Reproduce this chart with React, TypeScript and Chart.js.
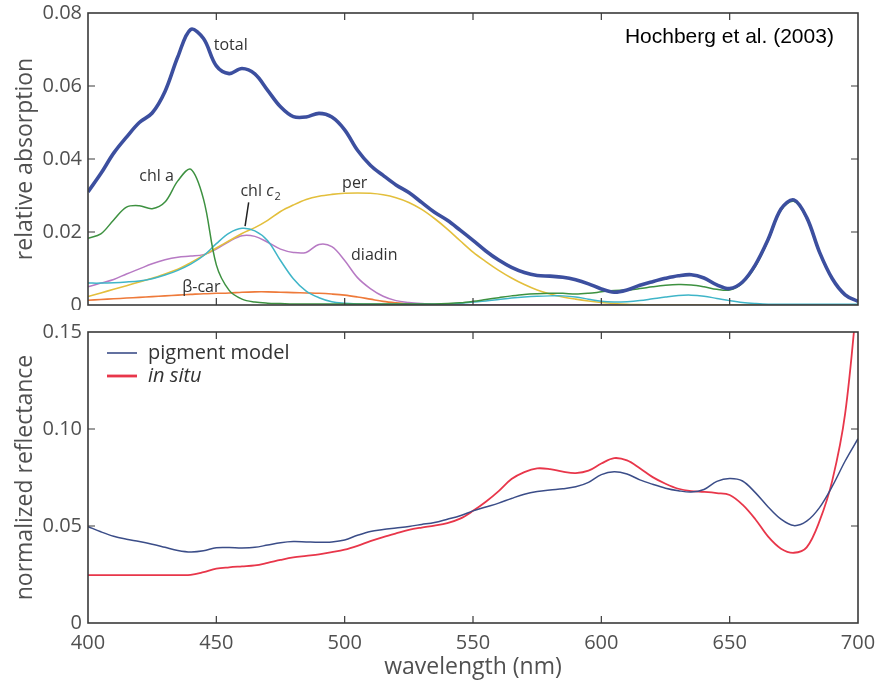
import React, { useEffect, useRef } from "react";
import { Chart, registerables } from "chart.js";

Chart.register(...registerables);

// ---------- data ----------
const wavelengths = [
  400, 405, 410, 415, 420, 425, 430, 435, 440, 445, 450, 455, 460, 465, 470, 475, 480, 485, 490, 495,
  500, 505, 510, 515, 520, 525, 530, 535, 540, 545, 550, 555, 560, 565, 570, 575, 580, 585, 590, 595,
  600, 605, 610, 615, 620, 625, 630, 635, 640, 645, 650, 655, 660, 665, 670, 675, 680, 685, 690, 695, 700,
];

const totalAbs = [
  0.031, 0.036, 0.0416, 0.046, 0.05, 0.0526, 0.0585, 0.068, 0.0755, 0.073, 0.0655, 0.0634, 0.0648, 0.0633, 0.0588, 0.0543, 0.0516, 0.0515, 0.0525, 0.0515,
  0.048, 0.0424, 0.0383, 0.0355, 0.0329, 0.0308, 0.0281, 0.0254, 0.0232, 0.0205, 0.0177, 0.0148, 0.0123, 0.0103, 0.0089, 0.0081, 0.0079, 0.0076, 0.0069, 0.0058,
  0.0044, 0.0035, 0.0041, 0.0054, 0.0064, 0.0073, 0.008, 0.0083, 0.0074, 0.0055, 0.0045, 0.0063, 0.011, 0.018, 0.0263, 0.0288, 0.024, 0.0145, 0.0072, 0.0028, 0.001,
];

const chlAAbs = [
  0.0183, 0.0195, 0.0233, 0.0268, 0.0272, 0.0264, 0.0282, 0.034, 0.0372, 0.029, 0.011, 0.004, 0.0016, 0.0008, 0.0005, 0.0004, 0.0003, 0.0003, 0.0003, 0.0003,
  0.0003, 0.0003, 0.0003, 0.0003, 0.0003, 0.0003, 0.0003, 0.0003, 0.0004, 0.0006, 0.001, 0.0015, 0.002, 0.0025, 0.0029, 0.0031, 0.0032, 0.0032, 0.003, 0.0032,
  0.0036, 0.004, 0.0041, 0.0045, 0.005, 0.0054, 0.0056, 0.0055, 0.005, 0.0043, 0.0041, 0.006, 0.0105, 0.0176, 0.0259, 0.0284, 0.0237, 0.0142, 0.007, 0.0026, 0.0009,
];

const chlC2Abs = [
  0.006, 0.006, 0.0061, 0.0063, 0.0066, 0.0072, 0.0082, 0.0095, 0.0112, 0.0135, 0.0168, 0.0197, 0.021, 0.0203, 0.0176, 0.0122, 0.0072, 0.0038, 0.002, 0.0009,
  0.0005, 0.0003, 0.0002, 0.0002, 0.0002, 0.0002, 0.0002, 0.0002, 0.0003, 0.0005, 0.0008, 0.0011, 0.0015, 0.0019, 0.0022, 0.0024, 0.0025, 0.0025, 0.0022, 0.0016,
  0.001, 0.0008, 0.0009, 0.0012, 0.0017, 0.0022, 0.0026, 0.0027, 0.0024, 0.0018, 0.0012, 0.0007, 0.0004, 0.0002, 0.0002, 0.0002, 0.0002, 0.0002, 0.0002, 0.0002, 0.0002,
];

const perAbs = [
  0.0023, 0.0033, 0.0043, 0.0053, 0.0063, 0.0073, 0.0085, 0.0098, 0.0116, 0.0136, 0.0156, 0.0176, 0.0196, 0.0212, 0.0232, 0.0256, 0.0274, 0.0289, 0.0298, 0.0303,
  0.0306, 0.0307, 0.0306, 0.0302, 0.0294, 0.0281, 0.0262, 0.0237, 0.0208, 0.0176, 0.0145, 0.0119, 0.0095, 0.0074, 0.0056, 0.0041, 0.003, 0.0022, 0.0016, 0.0011,
  0.0007, 0.0004, 0.0002, 0.0001, 0, 0, 0, 0, 0, 0, 0, 0, 0, 0, 0, 0, 0, 0, 0, 0, 0,
];

const diadinAbs = [
  0.005, 0.006, 0.007, 0.0085, 0.0099, 0.0113, 0.0124, 0.0131, 0.0134, 0.0138, 0.0153, 0.0174, 0.019, 0.0188, 0.0172, 0.0153, 0.0144, 0.0144, 0.0166, 0.016,
  0.0122, 0.0075, 0.0045, 0.0024, 0.0012, 0.0007, 0.0004, 0.0002, 0.0001, 0.0001, 0.0001, 0.0001, 0.0001, 0.0001, 0.0001, 0.0001, 0.0001, 0.0001, 0.0001, 0.0001,
  0.0001, 0.0001, 0.0001, 0.0001, 0.0001, 0.0001, 0.0001, 0.0001, 0.0001, 0.0001, 0.0001, 0.0001, 0.0001, 0.0001, 0.0001, 0.0001, 0.0001, 0.0001, 0.0001, 0.0001, 0.0001,
];

const betaCarAbs = [
  0.0013, 0.0015, 0.0017, 0.0019, 0.0021, 0.0023, 0.0025, 0.0027, 0.0029, 0.0031, 0.0032, 0.0033, 0.0035, 0.0036, 0.0036, 0.0035, 0.0034, 0.0033, 0.0032, 0.003,
  0.0027, 0.0022, 0.0016, 0.001, 0.0006, 0.0003, 0.0001, 0, 0, 0, 0, 0, 0, 0, 0, 0, 0, 0, 0, 0,
  0, 0, 0, 0, 0, 0, 0, 0, 0, 0, 0, 0, 0, 0, 0, 0, 0, 0, 0, 0, 0,
];

const pigmentModel = [
  0.0497, 0.047, 0.0447, 0.0432, 0.042, 0.0406, 0.039, 0.0374, 0.0366, 0.0372, 0.0388, 0.0389, 0.0387, 0.039, 0.0402, 0.0414, 0.042, 0.0418, 0.0416, 0.0418,
  0.0428, 0.0452, 0.0472, 0.0482, 0.049, 0.0498, 0.0508, 0.0518, 0.0535, 0.0553, 0.0578, 0.0598, 0.0618, 0.0642, 0.0664, 0.0678, 0.0686, 0.0692, 0.0702, 0.0725,
  0.0765, 0.078, 0.0768, 0.0738, 0.0715, 0.0695, 0.0682, 0.0675, 0.0688, 0.073, 0.0745, 0.0732, 0.0672, 0.0598, 0.0535, 0.0502, 0.0525, 0.0595, 0.0705, 0.0835, 0.095,
];

const inSitu = [
  0.0247, 0.0247, 0.0247, 0.0247, 0.0247, 0.0247, 0.0247, 0.0247, 0.0248, 0.0262, 0.028, 0.0287, 0.0292, 0.0297, 0.031, 0.0325, 0.0338, 0.0346, 0.0354, 0.0365,
  0.0378, 0.0398, 0.0422, 0.0443, 0.0462, 0.048, 0.0492, 0.0502, 0.0515, 0.0538, 0.0578, 0.0625, 0.068, 0.0742, 0.0778, 0.0797, 0.0793, 0.078, 0.0773, 0.0785,
  0.0822, 0.085, 0.0838, 0.0798, 0.0752, 0.0718, 0.0692, 0.068, 0.0676, 0.067, 0.066, 0.061, 0.0535, 0.0445, 0.0383, 0.0362, 0.039, 0.0525, 0.0735, 0.108, 0.172,
];

const wavelengthTicks = [400, 450, 500, 550, 600, 650, 700];
const absorptionTicks = [0, 0.02, 0.04, 0.06, 0.08];
const reflectanceTicks = [0, 0.05, 0.1, 0.15];

// ---------- styles ----------
const FONT = "'Open Sans', 'DejaVu Sans', sans-serif";
const TEXT_COLOR = "#505050";
const FRAME_COLOR = "#3a3a3a";

const zip = (ys: number[]) => wavelengths.map((w, i) => ({ x: w, y: ys[i] }));

const line = (label: string, ys: number[], color: string, width: number) => ({
  label,
  data: zip(ys),
  borderColor: color,
  backgroundColor: color,
  borderWidth: width,
  pointRadius: 0,
  fill: false,
  tension: 0.35,
});

const framePlugin = {
  id: "frameTicks",
  afterDraw(chart: any) {
    const { ctx, chartArea: a, scales } = chart;
    const xs = scales.x;
    const ys = scales.y;
    const L = 7;
    ctx.save();
    ctx.strokeStyle = FRAME_COLOR;
    ctx.lineWidth = 1.2;
    ctx.beginPath();
    xs.ticks.forEach((t: any) => {
      const p = xs.getPixelForValue(t.value);
      if (p <= a.left + 1 || p >= a.right - 1) return;
      ctx.moveTo(p, a.bottom);
      ctx.lineTo(p, a.bottom - L);
      ctx.moveTo(p, a.top);
      ctx.lineTo(p, a.top + L);
    });
    ys.ticks.forEach((t: any) => {
      const p = ys.getPixelForValue(t.value);
      if (p <= a.top + 1 || p >= a.bottom - 1) return;
      ctx.moveTo(a.left, p);
      ctx.lineTo(a.left + L, p);
      ctx.moveTo(a.right, p);
      ctx.lineTo(a.right - L, p);
    });
    ctx.stroke();
    ctx.lineWidth = 1.6;
    ctx.strokeRect(a.left, a.top, a.right - a.left, a.bottom - a.top);
    ctx.restore();
  },
};

// annotation anchors (data coordinates: wavelength, value)
const topLabels = [
  { text: "total", w: 449, v: 0.0712 },
  { text: "chl a", w: 420, v: 0.0351 },
  { text: "per", w: 499, v: 0.0334 },
  { text: "diadin", w: 502.5, v: 0.0137 },
  { text: "β-car", w: 436.7, v: 0.0049 },
];
const chlC2Label = { w: 459.4, v: 0.031 };
const chlC2Pointer = { w1: 462.6, v1: 0.0281, w2: 461.2, v2: 0.0216 };
const citation = { text: "Hochberg et al. (2003)", w: 690.6, v: 0.0734 };

const topAnnotations = {
  id: "topAnnotations",
  afterDatasetsDraw(chart: any) {
    const { ctx, scales } = chart;
    const px = (w: number) => scales.x.getPixelForValue(w);
    const py = (v: number) => scales.y.getPixelForValue(v);
    ctx.save();
    ctx.fillStyle = "#333";
    ctx.textBaseline = "middle";
    ctx.textAlign = "left";
    ctx.font = `16px ${FONT}`;
    topLabels.forEach((l) => ctx.fillText(l.text, px(l.w), py(l.v)));
    // chl c2 with italic c and subscript 2
    let x = px(chlC2Label.w);
    const y = py(chlC2Label.v);
    ctx.fillText("chl ", x, y);
    x += ctx.measureText("chl ").width;
    ctx.font = `italic 16px ${FONT}`;
    ctx.fillText("c", x, y);
    x += ctx.measureText("c").width + 1;
    ctx.font = `11px ${FONT}`;
    ctx.fillText("2", x, y + 5);
    // pointer
    ctx.strokeStyle = "#222";
    ctx.lineWidth = 1.5;
    ctx.beginPath();
    ctx.moveTo(px(chlC2Pointer.w1), py(chlC2Pointer.v1));
    ctx.lineTo(px(chlC2Pointer.w2), py(chlC2Pointer.v2));
    ctx.stroke();
    // citation
    ctx.fillStyle = "#000";
    ctx.textAlign = "right";
    ctx.font = `21px 'Liberation Sans', Arial, sans-serif`;
    ctx.fillText(citation.text, px(citation.w), py(citation.v));
    ctx.restore();
  },
};

const bottomLegend = {
  id: "bottomLegend",
  afterDatasetsDraw(chart: any) {
    const { ctx, chartArea: a } = chart;
    const items = [
      { text: "pigment model", color: "#3b4d88", width: 1.6, italic: false },
      { text: "in situ", color: "#e8364a", width: 2.8, italic: true },
    ];
    ctx.save();
    ctx.textBaseline = "middle";
    ctx.textAlign = "left";
    items.forEach((it, i) => {
      const y = a.top + 21 + i * 23;
      ctx.strokeStyle = it.color;
      ctx.lineWidth = it.width;
      ctx.beginPath();
      ctx.moveTo(a.left + 19, y);
      ctx.lineTo(a.left + 49, y);
      ctx.stroke();
      ctx.fillStyle = "#333";
      ctx.font = `${it.italic ? "italic " : ""}20px ${FONT}`;
      ctx.fillText(it.text, a.left + 60, y);
    });
    ctx.restore();
  },
};

const fixTicks = (vals: number[]) => (s: any) => {
  s.ticks = vals.map((v) => ({ value: v }));
};

function makeOptions(kind: "top" | "bottom"): any {
  const isTop = kind === "top";
  return {
    responsive: false,
    animation: false,
    events: [],
    layout: { padding: { left: 0, right: 21, top: isTop ? 13 : 22, bottom: 0 } },
    plugins: { legend: { display: false }, tooltip: { enabled: false } },
    scales: {
      x: {
        type: "linear",
        min: 400,
        max: 700,
        afterBuildTicks: fixTicks(wavelengthTicks),
        grid: { display: false, drawTicks: false },
        border: { display: false },
        ticks: {
          display: !isTop,
          padding: 8,
          color: TEXT_COLOR,
          font: { family: FONT, size: 20 },
          maxRotation: 0,
          callback: (v: number) => String(v),
        },
        title: {
          display: !isTop,
          text: "wavelength (nm)",
          color: TEXT_COLOR,
          font: { family: FONT, size: 23 },
          padding: { top: 0, bottom: 4 },
        },
        afterFit: (s: any) => {
          s.height = isTop ? 5 : 62;
          s.paddingLeft = 0;
          s.paddingRight = 0;
        },
      },
      y: {
        type: "linear",
        min: 0,
        max: isTop ? 0.08 : 0.15,
        afterBuildTicks: fixTicks(isTop ? absorptionTicks : reflectanceTicks),
        grid: { display: false, drawTicks: false },
        border: { display: false },
        ticks: {
          padding: 6,
          color: TEXT_COLOR,
          font: { family: FONT, size: 20 },
          callback: (v: number) => (v === 0 ? "0" : v.toFixed(2)),
        },
        title: {
          display: true,
          text: isTop ? "relative absorption" : "normalized reflectance",
          color: TEXT_COLOR,
          font: { family: FONT, size: 23 },
          padding: { top: 12, bottom: 0 },
        },
        afterFit: (s: any) => {
          s.width = 88;
          s.paddingTop = 0;
          s.paddingBottom = 0;
        },
      },
    },
  };
}

export default function App() {
  const topRef = useRef<HTMLCanvasElement>(null);
  const bottomRef = useRef<HTMLCanvasElement>(null);

  useEffect(() => {
    const top = new Chart(topRef.current as HTMLCanvasElement, {
      type: "line",
      data: {
        datasets: [
          line("total", totalAbs, "#3c4f9f", 3.6),
          line("chl a", chlAAbs, "#3d9140", 1.5),
          line("chl c2", chlC2Abs, "#3fb5c8", 1.5),
          line("per", perAbs, "#e3bf3c", 1.6),
          line("diadin", diadinAbs, "#b77ac4", 1.5),
          line("β-car", betaCarAbs, "#ee7a3a", 1.6),
        ],
      },
      options: makeOptions("top"),
      plugins: [framePlugin, topAnnotations],
    });
    const bottom = new Chart(bottomRef.current as HTMLCanvasElement, {
      type: "line",
      data: {
        datasets: [
          line("pigment model", pigmentModel, "#3b4d88", 1.5),
          line("in situ", inSitu, "#e8364a", 1.8),
        ],
      },
      options: makeOptions("bottom"),
      plugins: [framePlugin, bottomLegend],
    });
    return () => {
      top.destroy();
      bottom.destroy();
    };
  }, []);

  return (
    <div style={{ position: "absolute", left: 0, top: 0, width: 879, height: 685, background: "#fff" }}>
      <canvas ref={topRef} width={879} height={310} style={{ display: "block" }} />
      <canvas ref={bottomRef} width={879} height={375} style={{ display: "block" }} />
    </div>
  );
}
